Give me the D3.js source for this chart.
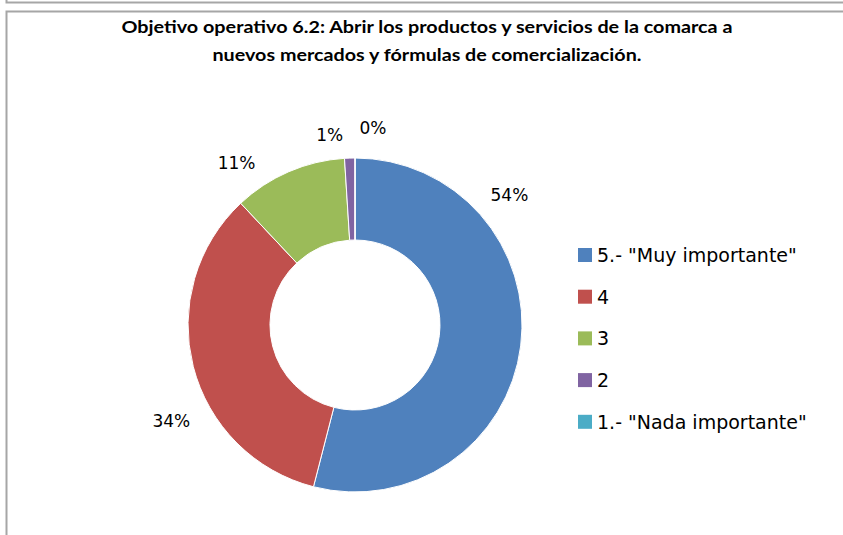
<!DOCTYPE html>
<html>
<head>
<meta charset="utf-8">
<script src="https://cdn.jsdelivr.net/npm/d3@7"></script>
<style>
html,body{margin:0;padding:0;background:#fff;}
svg{display:block;}
</style>
</head>
<body>
<svg id="chart" width="843" height="535"></svg>
<script>
const titleLines = ["Objetivo operativo 6.2: Abrir los productos  y servicios de la comarca a",
                    "nuevos mercados y fórmulas de comercialización."];
const categories = ['5.- "Muy importante"', '4', '3', '2', '1.- "Nada importante"'];
const values = [54, 34, 11, 1, 0];
const colors = ["#4F81BD", "#C0504D", "#9BBB59", "#8064A2", "#4BACC6"];
// label nudges relative to a label-arc centroid (layout only)
const labelNudge = [[-44, -155], [10, 46], [-39, 22], [-19, 10], [18, 3]];

const svg = d3.select("#chart");

// frames
svg.append("rect").attr("x", 6.5).attr("y", -20).attr("width", 900).attr("height", 22.5)
  .attr("fill", "none").attr("stroke", "#a6a6a6").attr("stroke-width", 2);
svg.append("rect").attr("x", 6.5).attr("y", 11.5).attr("width", 900).attr("height", 600)
  .attr("fill", "#fff").attr("stroke", "#a6a6a6").attr("stroke-width", 2);

// title
const titleW = [611, 429];
svg.append("g").selectAll("text").data(titleLines).join("text")
  .attr("x", 427).attr("y", (d, i) => 33 + i * 28)
  .attr("text-anchor", "middle")
  .attr("font-family", "Lato, 'Open Sans', sans-serif")
  .attr("font-weight", "bold").attr("font-size", 17)
  .attr("fill", "#000")
  .attr("textLength", (d, i) => titleW[i]).attr("lengthAdjust", "spacingAndGlyphs")
  .text(d => d);

// donut
const cx = 355, cy = 325, rOuter = 167, rInner = 85;
const pie = d3.pie().value(d => d).sort(null);
const arcs = pie(values);
const arc = d3.arc().innerRadius(rInner).outerRadius(rOuter);
const labelArc = d3.arc().innerRadius(200).outerRadius(200);
const total = d3.sum(values);

const g = svg.append("g").attr("transform", `translate(${cx},${cy})`);
g.selectAll("path").data(arcs).join("path")
  .attr("d", arc).attr("fill", (d, i) => colors[i])
  .attr("stroke", "#fff").attr("stroke-width", 1);

g.selectAll("text.lbl").data(arcs).join("text").attr("class", "lbl")
  .attr("x", (d, i) => labelArc.centroid(d)[0] + labelNudge[i][0])
  .attr("y", (d, i) => labelArc.centroid(d)[1] + labelNudge[i][1])
  .attr("text-anchor", "middle").attr("dominant-baseline", "central")
  .attr("font-family", "'DejaVu Sans', Verdana, sans-serif").attr("font-size", 17)
  .attr("fill", "#000")
  .text(d => d3.format(".0%")(d.data / total));

// legend
const leg = svg.append("g").attr("transform", "translate(578,255)");
const rows = leg.selectAll("g").data(categories).join("g")
  .attr("transform", (d, i) => `translate(0,${i * 41.7})`);
rows.append("rect").attr("x", 0).attr("y", -7).attr("width", 14).attr("height", 14)
  .attr("fill", (d, i) => colors[i]);
rows.append("text").attr("x", 19).attr("y", 0).attr("dominant-baseline", "central")
  .attr("font-family", "'DejaVu Sans', Verdana, sans-serif").attr("font-size", 19)
  .attr("fill", "#000").text(d => d);
</script>
</body>
</html>
